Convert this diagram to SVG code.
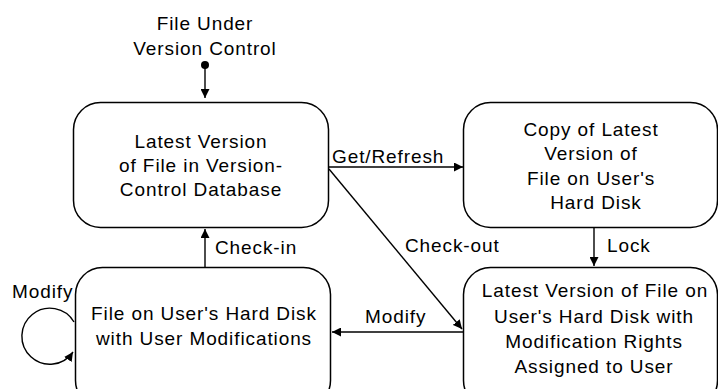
<svg xmlns="http://www.w3.org/2000/svg" width="718" height="389" viewBox="0 0 718 389">
  <defs>
    <marker id="arrow" viewBox="0 0 10 10" refX="10" refY="5" markerWidth="9" markerHeight="9" markerUnits="userSpaceOnUse" orient="auto">
      <path d="M0,0 L10,5 L0,10 z" fill="#000"/>
    </marker>
    <style>
      .box { fill: #fff; stroke: #000; stroke-width: 1.5; }
      .edge { fill: none; stroke: #000; stroke-width: 1.4; marker-end: url(#arrow); }
      text { font-family: "Liberation Sans", Arial, Helvetica, sans-serif; font-size: 19px; fill: #000; letter-spacing: 0.9px; }
      .c { text-anchor: middle; }
    </style>
  </defs>
  <rect width="718" height="389" fill="#fff"/>

  <!-- initial pseudo-state -->
  <g id="start">
    <text class="c" x="205" y="30">File Under</text>
    <text class="c" x="205" y="55">Version Control</text>
    <circle cx="205" cy="65" r="4" fill="#000"/>
  </g>

  <!-- states -->
  <g id="latest-in-db">
    <rect class="box" x="73.5" y="102.5" width="255" height="125" rx="27" ry="27"/>
    <text class="c" x="201" y="148">Latest Version</text>
    <text class="c" x="201" y="172">of File in Version-</text>
    <text class="c" x="201" y="196">Control Database</text>
  </g>

  <g id="local-copy">
    <rect class="box" x="463.5" y="102.5" width="254" height="125" rx="27" ry="27"/>
    <text class="c" x="591" y="136">Copy of Latest</text>
    <text class="c" x="591" y="160">Version of</text>
    <text class="c" x="591" y="185">File on User's</text>
    <text class="c" x="596" y="209">Hard Disk</text>
  </g>

  <g id="modified-copy">
    <rect class="box" x="75.5" y="267.5" width="255" height="140" rx="27" ry="27"/>
    <text class="c" x="204" y="320">File on User's Hard Disk</text>
    <text class="c" x="204" y="345">with User Modifications</text>
  </g>

  <g id="checked-out">
    <rect class="box" x="463.5" y="267.5" width="254" height="140" rx="27" ry="27"/>
    <text class="c" x="595" y="297">Latest Version of File on</text>
    <text class="c" x="594" y="323">User's Hard Disk with</text>
    <text class="c" x="594" y="348">Modification Rights</text>
    <text class="c" x="594" y="373">Assigned to User</text>
  </g>

  <!-- transitions -->
  <g id="connectors">
    <line class="edge" x1="205" y1="67" x2="205" y2="98"/>
    <line class="edge" x1="329" y1="167" x2="463" y2="167"/>
    <line class="edge" x1="329" y1="169" x2="462" y2="329"/>
    <line class="edge" x1="594" y1="228" x2="594" y2="266"/>
    <line class="edge" x1="463" y1="332" x2="332" y2="332"/>
    <line class="edge" x1="205" y1="267" x2="205" y2="229"/>
    <path class="edge" d="M74,322 A28,28 0 1 0 73,352"/>
    <text x="332" y="163">Get/Refresh</text>
    <text x="405" y="252">Check-out</text>
    <text x="607" y="252">Lock</text>
    <text x="365" y="323">Modify</text>
    <text x="215" y="254">Check-in</text>
    <text x="12" y="298">Modify</text>
  </g>
</svg>
